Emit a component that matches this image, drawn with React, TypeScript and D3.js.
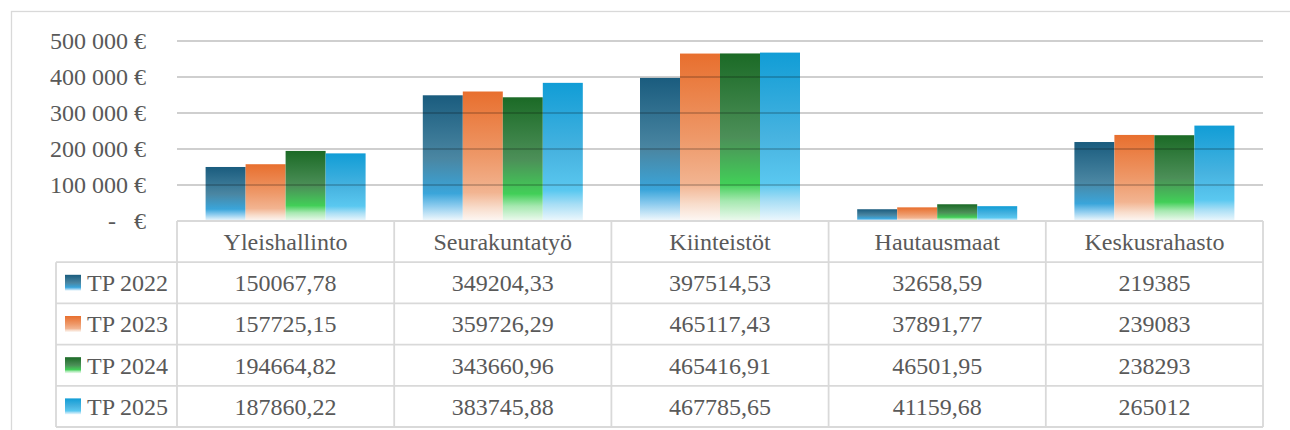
import React from 'react'
import { scaleBand, scaleLinear, format } from 'd3'

const categories = ['Yleishallinto', 'Seurakuntatyö', 'Kiinteistöt', 'Hautausmaat', 'Keskusrahasto']
const seriesNames = ['TP 2022', 'TP 2023', 'TP 2024', 'TP 2025']
const tp2022 = [150067.78, 349204.33, 397514.53, 32658.59, 219385]
const tp2023 = [157725.15, 359726.29, 465117.43, 37891.77, 239083]
const tp2024 = [194664.82, 343660.96, 465416.91, 46501.95, 238293]
const tp2025 = [187860.22, 383745.88, 467785.65, 41159.68, 265012]
const yTicks = [0, 100000, 200000, 300000, 400000, 500000]

const seriesValues = [tp2022, tp2023, tp2024, tp2025]

// gradient stops per series, top -> bottom
const gradients = [
  [['0%', '#1a5c7e'], ['50%', '#4a86a2'], ['78%', '#3aa5da'], ['88%', '#8ccbee'], ['100%', '#f4fafd']],
  [['0%', '#e86f2e'], ['50%', '#ee9868'], ['78%', '#f2b491'], ['90%', '#f8ddcc'], ['100%', '#fdf8f5']],
  [['0%', '#1b6a26'], ['50%', '#4c8f58'], ['78%', '#42cf58'], ['88%', '#a6e8b0'], ['100%', '#eefaf0']],
  [['0%', '#119dd6'], ['50%', '#47b3e0'], ['78%', '#5ac8f0'], ['88%', '#a8def5'], ['100%', '#eef8fd']],
]

const fmtCell = (v: number) => (Number.isInteger(v) ? String(v) : v.toFixed(2).replace('.', ','))
const fmtTick = (v: number) => (v === 0 ? '-   €' : format(',')(v).replace(/,/g, ' ') + ' €')

const App = () => {
  const width = 1290
  const height = 430
  const plotLeft = 177
  const plotRight = 1263
  const plotTop = 41
  const plotBottom = 221
  const rowH = 41.2
  const legendLeft = 56
  const font = "'Liberation Serif', 'Times New Roman', serif"
  const fontSize = 24
  const textColor = '#595959'
  const lineColor = '#d9d9d9'

  const xScale = scaleBand<string>().domain(categories).range([plotLeft, plotRight])
  const xInner = scaleBand<string>()
    .domain(seriesNames)
    .range([0, xScale.bandwidth()])
    .paddingInner(0)
    .paddingOuter(0.715)
  const yScale = scaleLinear().domain([0, 500000]).range([plotBottom, plotTop])

  const tableBottom = plotBottom + rowH * 5

  return (
    <svg width={width} height={height} style={{ position: 'absolute', left: 0, top: 0, background: '#fff' }}>
      <defs>
        {gradients.map((stops, i) => (
          <linearGradient key={i} id={`grad${i}`} x1='0' y1='0' x2='0' y2='1'>
            {stops.map(([o, c]) => (
              <stop key={o} offset={o} stopColor={c} />
            ))}
          </linearGradient>
        ))}
      </defs>

      {/* chart area border */}
      <rect x={11.5} y={11.5} width={1400} height={600} fill='none' stroke={lineColor} strokeWidth={1.3} />

      {/* bars */}
      {categories.map((cat, ci) => (
        <g key={cat} transform={`translate(${xScale(cat)},0)`}>
          {seriesNames.map((s, si) => {
            const v = seriesValues[si][ci]
            return (
              <rect
                key={s}
                x={xInner(s)}
                y={yScale(v)}
                width={xInner.bandwidth()}
                height={yScale(0) - yScale(v)}
                fill={`url(#grad${si})`}
              />
            )
          })}
        </g>
      ))}

      {/* gridlines */}
      {yTicks.filter(t => t > 0).map(t => (
        <line
          key={t}
          x1={plotLeft}
          x2={plotRight}
          y1={yScale(t)}
          y2={yScale(t)}
          stroke='rgba(0,0,0,0.25)'
          strokeWidth={1.6}
        />
      ))}

      {/* y tick labels */}
      {yTicks.map(t => (
        <text
          key={t}
          x={146}
          y={yScale(t)}
          dy='0.35em'
          textAnchor='end'
          fontFamily={font}
          fontSize={fontSize}
          fill={textColor}
          style={{ whiteSpace: 'pre' }}
        >
          {fmtTick(t)}
        </text>
      ))}

      {/* data table */}
      <g stroke={lineColor} strokeWidth={1.8} fill='none'>
        <line x1={plotLeft} x2={plotRight} y1={plotBottom} y2={plotBottom} />
        {seriesNames.map((s, i) => (
          <line key={s} x1={legendLeft} x2={plotRight} y1={plotBottom + rowH * (i + 1)} y2={plotBottom + rowH * (i + 1)} />
        ))}
        <line x1={legendLeft} x2={plotRight} y1={tableBottom} y2={tableBottom} />
        <line x1={legendLeft} x2={legendLeft} y1={plotBottom + rowH} y2={tableBottom} />
        {categories.map(c => (
          <line key={c} x1={xScale(c)} x2={xScale(c)} y1={plotBottom} y2={tableBottom} />
        ))}
        <line x1={plotRight} x2={plotRight} y1={plotBottom} y2={tableBottom} />
      </g>

      {categories.map(c => (
        <text
          key={c}
          x={(xScale(c) ?? 0) + xScale.bandwidth() / 2}
          y={plotBottom + rowH / 2}
          dy='0.35em'
          textAnchor='middle'
          fontFamily={font}
          fontSize={fontSize}
          fill={textColor}
        >
          {c}
        </text>
      ))}

      {seriesNames.map((s, si) => {
        const cy = plotBottom + rowH * (si + 1) + rowH / 2
        return (
          <g key={s}>
            <rect x={65} y={cy - 8} width={16} height={16} fill={`url(#grad${si})`} />
            <text x={87} y={cy} dy='0.35em' fontFamily={font} fontSize={fontSize} fill={textColor}>
              {s}
            </text>
            {categories.map((c, ci) => (
              <text
                key={c}
                x={(xScale(c) ?? 0) + xScale.bandwidth() / 2}
                y={cy}
                dy='0.35em'
                textAnchor='middle'
                fontFamily={font}
                fontSize={fontSize}
                fill={textColor}
              >
                {fmtCell(seriesValues[si][ci])}
              </text>
            ))}
          </g>
        )
      })}
    </svg>
  )
}

export default App
